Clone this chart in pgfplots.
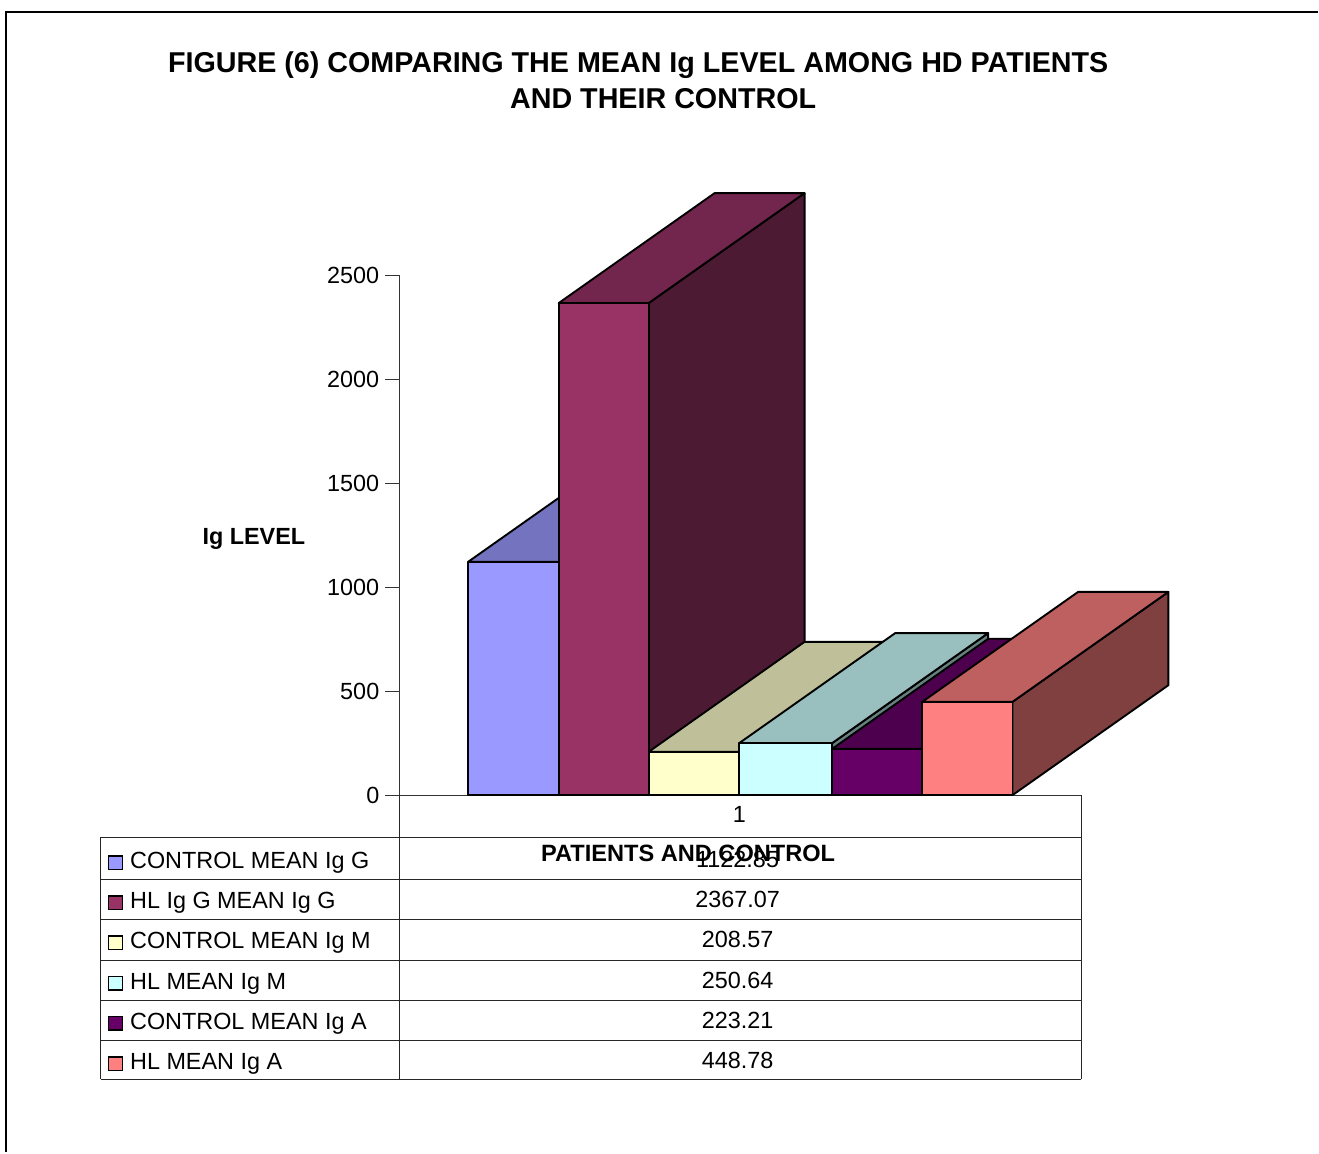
\documentclass[border=0pt]{standalone}
\usepackage{pgfplots}
\pgfplotsset{compat=1.18}
\usepackage{fontspec}
\setmainfont{Liberation Sans}
\definecolor{frontA}{HTML}{9999FF}\definecolor{topA}{HTML}{7373BF}\definecolor{sideA}{HTML}{4D4D80}
\definecolor{frontB}{HTML}{993366}\definecolor{topB}{HTML}{73264D}\definecolor{sideB}{HTML}{4D1A33}
\definecolor{frontC}{HTML}{FFFFCC}\definecolor{topC}{HTML}{BFBF99}\definecolor{sideC}{HTML}{808066}
\definecolor{frontD}{HTML}{CCFFFF}\definecolor{topD}{HTML}{99BFBF}\definecolor{sideD}{HTML}{668080}
\definecolor{frontE}{HTML}{660066}\definecolor{topE}{HTML}{4D004D}\definecolor{sideE}{HTML}{330033}
\definecolor{frontF}{HTML}{FF8080}\definecolor{topF}{HTML}{BF6060}\definecolor{sideF}{HTML}{804040}
\newcommand{\tablefont}{\fontsize{23.4}{28}\selectfont}
\pgfplotsset{face/.style={draw=black,line width=1.9pt,line join=round}}
\begin{document}
\begin{tikzpicture}[x=1pt,y=1pt]
\path (0,0) rectangle (1319,1153);
% outer frame, open on the right and at the bottom
\draw[line width=1.4pt] (6,0) -- (6,1141) -- (1319,1141);
\begin{axis}[
  at={(399.5pt,357.4pt)}, anchor=origin, scale only axis,
  width=682.5pt, height=520pt,
  xmin=399.5, xmax=1082, ymin=0, ymax=2500,
  clip=false, no markers,
  axis y line=left, axis x line=bottom,
  axis line style={-,draw=black!80,line width=1.1pt},
  ytick={0,500,1000,1500,2000,2500},
  xtick={739.75}, xticklabels={1},
  xtick style={draw=none},
  ytick style={draw=black!80,line width=1.1pt},
  tick align=outside, major tick length=14.5pt,
  tick label style={font=\tablefont,/pgf/number format/assume math mode=true,/pgf/number format/1000 sep={}},
  yticklabel style={xshift=-2pt},
  xticklabel style={yshift=7pt},
  title={FIGURE (6) COMPARING THE MEAN Ig LEVEL AMONG HD PATIENTS\\\hspace*{50pt}AND THEIR CONTROL},
  every axis title/.style={at={(axis cs:638.5,3576)},anchor=north,align=center,inner sep=0pt,
    font=\fontsize{28.7}{36}\selectfont\bfseries},
  xlabel={PATIENTS AND CONTROL},
  every axis x label/.style={at={(axis cs:688.5,-317.3)},anchor=base,inner sep=0pt,font=\fontsize{23.6}{28}\selectfont\bfseries},
  ylabel={Ig LEVEL},
  every axis y label/.style={at={(axis cs:254,1206.7)},anchor=base,inner sep=0pt,font=\fontsize{23.4}{28}\selectfont\bfseries},
]
% control IgG: 1122.85
\addplot[face,fill=sideA] coordinates {(559,0)(715,529)(715,1651.85)(559,1122.85)} -- cycle;
\addplot[face,fill=topA] coordinates {(468.5,1122.85)(559,1122.85)(715,1651.85)(624.5,1651.85)} -- cycle;
\addplot[face,fill=frontA] coordinates {(468.5,0)(559,0)(559,1122.85)(468.5,1122.85)} -- cycle;
% HL IgG: 2367.07
\addplot[face,fill=sideB] coordinates {(649,0)(805,529)(805,2896.07)(649,2367.07)} -- cycle;
\addplot[face,fill=topB] coordinates {(559,2367.07)(649,2367.07)(805,2896.07)(715,2896.07)} -- cycle;
\addplot[face,fill=frontB] coordinates {(559,0)(649,0)(649,2367.07)(559,2367.07)} -- cycle;
% control IgM: 208.57
\addplot[face,fill=sideC] coordinates {(739.7,0)(895.7,529)(895.7,737.57)(739.7,208.57)} -- cycle;
\addplot[face,fill=topC] coordinates {(649,208.57)(739.7,208.57)(895.7,737.57)(805,737.57)} -- cycle;
\addplot[face,fill=frontC] coordinates {(649,0)(739.7,0)(739.7,208.57)(649,208.57)} -- cycle;
% HL IgM: 250.64
\addplot[face,fill=sideD] coordinates {(832.7,0)(988.7,529)(988.7,779.64)(832.7,250.64)} -- cycle;
\addplot[face,fill=topD] coordinates {(739.7,250.64)(832.7,250.64)(988.7,779.64)(895.7,779.64)} -- cycle;
\addplot[face,fill=frontD] coordinates {(739.7,0)(832.7,0)(832.7,250.64)(739.7,250.64)} -- cycle;
% control IgA: 223.21
\addplot[face,fill=sideE] coordinates {(922.7,0)(1078.7,529)(1078.7,752.21)(922.7,223.21)} -- cycle;
\addplot[face,fill=topE] coordinates {(832.7,223.21)(922.7,223.21)(1078.7,752.21)(988.7,752.21)} -- cycle;
\addplot[face,fill=frontE] coordinates {(832.7,0)(922.7,0)(922.7,223.21)(832.7,223.21)} -- cycle;
% HL IgA: 448.78
\addplot[face,fill=sideF] coordinates {(1013,0)(1169,529)(1169,977.78)(1013,448.78)} -- cycle;
\addplot[face,fill=topF] coordinates {(922.7,448.78)(1013,448.78)(1169,977.78)(1078.7,977.78)} -- cycle;
\addplot[face,fill=frontF] coordinates {(922.7,0)(1013,0)(1013,448.78)(922.7,448.78)} -- cycle;
\end{axis}
% data table below the bars
\begin{scope}[y=-1pt,yshift=1152.4pt]
  \draw[line width=1pt,black!85]
    (101,837) -- (1082,837)
    (101,879.5) -- (1082,879.5)
    (101,919.5) -- (1082,919.5)
    (101,960) -- (1082,960)
    (101,1000) -- (1082,1000)
    (101,1040.5) -- (1082,1040.5)
    (101,1079) -- (1082,1079)
    (101,837) -- (101,1079)
    (399.5,795) -- (399.5,1079)
    (1082,795) -- (1082,1079);
  \foreach \py/\col/\name/\val/\base in {
    856/frontA/CONTROL MEAN Ig G/1122.85/868,
    896/frontB/HL Ig G MEAN Ig G/2367.07/908,
    936/frontC/CONTROL MEAN Ig M/208.57/948.5,
    976.5/frontD/HL MEAN Ig M/250.64/989,
    1016.5/frontE/CONTROL MEAN Ig A/223.21/1029,
    1057/frontF/HL MEAN Ig A/448.78/1069}{
    \draw[fill=\col,line width=1.4pt] (108.5,\py) rectangle (122.5,\py+13.5);
    \node[anchor=base west,inner sep=0pt,font=\tablefont] at (130,\base) {\name};
    \node[anchor=base,inner sep=0pt,font=\tablefont] at (738,\base-1) {\val};
  }
\end{scope}
\end{tikzpicture}
\end{document}
